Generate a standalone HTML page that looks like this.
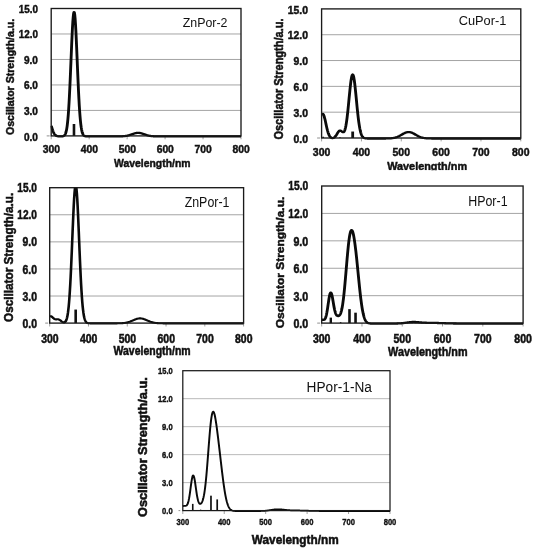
<!DOCTYPE html>
<html><head><meta charset="utf-8"><title>Oscillator strength spectra</title>
<style>
html,body{margin:0;padding:0;background:#fff;}
body{width:535px;height:550px;overflow:hidden;}
svg{display:block;}
text{font-family:"Liberation Sans","DejaVu Sans",sans-serif;fill:#111;}
</style></head><body>
<svg width="535" height="550" viewBox="0 0 535 550">
<rect width="535" height="550" fill="#fff"/>

<g id="chart1">
<clipPath id="cp0"><rect x="50.6" y="7.7" width="191.20000000000002" height="131.20000000000002"/></clipPath>
<line x1="51.20" x2="241.00" y1="110.42" y2="110.42" stroke="#a4a4a4" stroke-width="1"/>
<line x1="51.20" x2="241.00" y1="84.94" y2="84.94" stroke="#a4a4a4" stroke-width="1"/>
<line x1="51.20" x2="241.00" y1="59.46" y2="59.46" stroke="#a4a4a4" stroke-width="1"/>
<line x1="51.20" x2="241.00" y1="33.98" y2="33.98" stroke="#a4a4a4" stroke-width="1"/>
<line x1="46.70" x2="49.60" y1="135.90" y2="135.90" stroke="#909090" stroke-width="1"/>
<line x1="51.20" x2="51.20" y1="135.90" y2="139.30" stroke="#a0a0a0" stroke-width="1"/>
<line x1="89.16" x2="89.16" y1="135.90" y2="139.30" stroke="#a0a0a0" stroke-width="1"/>
<line x1="127.12" x2="127.12" y1="135.90" y2="139.30" stroke="#a0a0a0" stroke-width="1"/>
<line x1="165.08" x2="165.08" y1="135.90" y2="139.30" stroke="#a0a0a0" stroke-width="1"/>
<line x1="203.04" x2="203.04" y1="135.90" y2="139.30" stroke="#a0a0a0" stroke-width="1"/>
<line x1="241.00" x2="241.00" y1="135.90" y2="139.30" stroke="#a0a0a0" stroke-width="1"/>
<rect x="72.68" y="124.01" width="2.6" height="11.89" fill="#111"/>
<g clip-path="url(#cp0)"><polyline transform="scale(1.24,1)" points="41.29,125.68 41.60,126.87 41.90,128.06 42.21,129.21 42.51,130.29 42.82,131.30 43.13,132.20 43.43,133.00 43.74,133.69 44.05,134.27 44.35,134.76 44.66,135.15 44.96,135.46 45.27,135.71 45.58,135.90 45.88,136.04 46.19,136.15 46.49,136.23 46.80,136.28 47.11,136.32 47.41,136.35 47.72,136.36 48.03,136.38 48.33,136.38 48.64,136.38 48.94,136.38 49.25,136.38 49.56,136.37 49.86,136.35 50.17,136.31 50.47,136.26 50.78,136.19 51.09,136.08 51.39,135.91 51.70,135.67 52.00,135.33 52.31,134.86 52.62,134.20 52.92,133.32 53.23,132.14 53.54,130.59 53.84,128.60 54.15,126.09 54.45,122.96 54.76,119.15 55.07,114.58 55.37,109.20 55.68,103.01 55.98,96.00 56.29,88.26 56.60,79.87 56.90,71.00 57.21,61.85 57.52,52.68 57.82,43.77 58.13,35.43 58.43,27.96 58.74,21.65 59.05,16.77 59.35,13.53 59.66,12.06 59.96,12.43 60.27,14.62 60.58,18.54 60.88,24.02 61.19,30.82 61.49,38.68 61.80,47.29 62.11,56.34 62.41,65.53 62.72,74.59 63.03,83.29 63.33,91.44 63.64,98.90 63.94,105.58 64.25,111.45 64.56,116.50 64.86,120.76 65.17,124.29 65.47,127.16 65.78,129.46 66.09,131.26 66.39,132.65 66.70,133.70 67.01,134.49 67.31,135.07 67.62,135.48 67.92,135.78 68.23,135.99 68.54,136.13 68.84,136.22 69.15,136.29 69.45,136.33 69.76,136.36 70.07,136.37 70.37,136.38 70.68,136.39 70.98,136.39 71.29,136.40 71.60,136.40 71.90,136.40 72.21,136.40 72.52,136.40 72.82,136.40 73.13,136.40 73.43,136.40 73.74,136.40 74.05,136.40 74.35,136.40 74.66,136.40 74.96,136.40 75.27,136.40 75.58,136.40 75.88,136.40 76.19,136.40 76.50,136.40 76.80,136.40 77.11,136.40 77.41,136.40 77.72,136.40 78.03,136.40 78.33,136.40 78.64,136.40 78.94,136.40 79.25,136.40 79.56,136.40 79.86,136.40 80.17,136.40 80.47,136.40 80.78,136.40 81.09,136.40 81.39,136.40 81.70,136.40 82.01,136.40 82.31,136.40 82.62,136.40 82.92,136.40 83.23,136.40 83.54,136.40 83.84,136.40 84.15,136.40 84.45,136.40 84.76,136.40 85.07,136.40 85.37,136.40 85.68,136.40 85.99,136.40 86.29,136.40 86.60,136.40 86.90,136.40 87.21,136.40 87.52,136.40 87.82,136.40 88.13,136.40 88.43,136.40 88.74,136.40 89.05,136.40 89.35,136.40 89.66,136.40 89.96,136.40 90.27,136.40 90.58,136.40 90.88,136.40 91.19,136.40 91.50,136.40 91.80,136.40 92.11,136.40 92.41,136.40 92.72,136.40 93.03,136.40 93.33,136.40 93.64,136.40 93.94,136.39 94.25,136.39 94.56,136.39 94.86,136.39 95.17,136.39 95.48,136.38 95.78,136.38 96.09,136.37 96.39,136.37 96.70,136.36 97.01,136.35 97.31,136.34 97.62,136.33 97.92,136.32 98.23,136.30 98.54,136.29 98.84,136.27 99.15,136.24 99.45,136.22 99.76,136.19 100.07,136.15 100.37,136.12 100.68,136.07 100.99,136.03 101.29,135.97 101.60,135.92 101.90,135.85 102.21,135.78 102.52,135.71 102.82,135.63 103.13,135.54 103.43,135.45 103.74,135.35 104.05,135.24 104.35,135.13 104.66,135.01 104.97,134.89 105.27,134.77 105.58,134.64 105.88,134.51 106.19,134.37 106.50,134.24 106.80,134.10 107.11,133.97 107.41,133.84 107.72,133.71 108.03,133.58 108.33,133.47 108.64,133.35 108.94,133.25 109.25,133.16 109.56,133.08 109.86,133.00 110.17,132.94 110.48,132.89 110.78,132.86 111.09,132.84 111.39,132.83 111.70,132.84 112.01,132.86 112.31,132.89 112.62,132.94 112.92,133.00 113.23,133.08 113.54,133.16 113.84,133.25 114.15,133.35 114.46,133.47 114.76,133.58 115.07,133.71 115.37,133.84 115.68,133.97 115.99,134.10 116.29,134.24 116.60,134.37 116.90,134.51 117.21,134.64 117.52,134.77 117.82,134.89 118.13,135.01 118.43,135.13 118.74,135.24 119.05,135.35 119.35,135.45 119.66,135.54 119.97,135.63 120.27,135.71 120.58,135.78 120.88,135.85 121.19,135.92 121.50,135.97 121.80,136.03 122.11,136.07 122.41,136.12 122.72,136.15 123.03,136.19 123.33,136.22 123.64,136.24 123.95,136.27 124.25,136.29 124.56,136.30 124.86,136.32 125.17,136.33 125.48,136.34 125.78,136.35 126.09,136.36 126.39,136.37 126.70,136.37 127.01,136.38 127.31,136.38 127.62,136.39 127.92,136.39 128.23,136.39 128.54,136.39 128.84,136.39 129.15,136.40 129.46,136.40 129.76,136.40 130.07,136.40 130.37,136.40 130.68,136.40 130.99,136.40 131.29,136.40 131.60,136.40 131.90,136.40 132.21,136.40 132.52,136.40 132.82,136.40 133.13,136.40 133.44,136.40 133.74,136.40 134.05,136.40 134.35,136.40 134.66,136.40 134.97,136.40 135.27,136.40 135.58,136.40 135.88,136.40 136.19,136.40 136.50,136.40 136.80,136.40 137.11,136.40 137.41,136.40 137.72,136.40 138.03,136.40 138.33,136.40 138.64,136.40 138.95,136.40 139.25,136.40 139.56,136.40 139.86,136.40 140.17,136.40 140.48,136.40 140.78,136.40 141.09,136.40 141.39,136.40 141.70,136.40 142.01,136.40 142.31,136.40 142.62,136.40 142.93,136.40 143.23,136.40 143.54,136.40 143.84,136.40 144.15,136.40 144.46,136.40 144.76,136.40 145.07,136.40 145.37,136.40 145.68,136.40 145.99,136.40 146.29,136.40 146.60,136.40 146.90,136.40 147.21,136.40 147.52,136.40 147.82,136.40 148.13,136.40 148.44,136.40 148.74,136.40 149.05,136.40 149.35,136.40 149.66,136.40 149.97,136.40 150.27,136.40 150.58,136.40 150.88,136.40 151.19,136.40 151.50,136.40 151.80,136.40 152.11,136.40 152.42,136.40 152.72,136.40 153.03,136.40 153.33,136.40 153.64,136.40 153.95,136.40 154.25,136.40 154.56,136.40 154.86,136.40 155.17,136.40 155.48,136.40 155.78,136.40 156.09,136.40 156.39,136.40 156.70,136.40 157.01,136.40 157.31,136.40 157.62,136.40 157.93,136.40 158.23,136.40 158.54,136.40 158.84,136.40 159.15,136.40 159.46,136.40 159.76,136.40 160.07,136.40 160.37,136.40 160.68,136.40 160.99,136.40 161.29,136.40 161.60,136.40 161.91,136.40 162.21,136.40 162.52,136.40 162.82,136.40 163.13,136.40 163.44,136.40 163.74,136.40 164.05,136.40 164.35,136.40 164.66,136.40 164.97,136.40 165.27,136.40 165.58,136.40 165.88,136.40 166.19,136.40 166.50,136.40 166.80,136.40 167.11,136.40 167.42,136.40 167.72,136.40 168.03,136.40 168.33,136.40 168.64,136.40 168.95,136.40 169.25,136.40 169.56,136.40 169.86,136.40 170.17,136.40 170.48,136.40 170.78,136.40 171.09,136.40 171.40,136.40 171.70,136.40 172.01,136.40 172.31,136.40 172.62,136.40 172.93,136.40 173.23,136.40 173.54,136.40 173.84,136.40 174.15,136.40 174.46,136.40 174.76,136.40 175.07,136.40 175.37,136.40 175.68,136.40 175.99,136.40 176.29,136.40 176.60,136.40 176.91,136.40 177.21,136.40 177.52,136.40 177.82,136.40 178.13,136.40 178.44,136.40 178.74,136.40 179.05,136.40 179.35,136.40 179.66,136.40 179.97,136.40 180.27,136.40 180.58,136.40 180.89,136.40 181.19,136.40 181.50,136.40 181.80,136.40 182.11,136.40 182.42,136.40 182.72,136.40 183.03,136.40 183.33,136.40 183.64,136.40 183.95,136.40 184.25,136.40 184.56,136.40 184.86,136.40 185.17,136.40 185.48,136.40 185.78,136.40 186.09,136.40 186.40,136.40 186.70,136.40 187.01,136.40 187.31,136.40 187.62,136.40 187.93,136.40 188.23,136.40 188.54,136.40 188.84,136.40 189.15,136.40 189.46,136.40 189.76,136.40 190.07,136.40 190.38,136.40 190.68,136.40 190.99,136.40 191.29,136.40 191.60,136.40 191.91,136.40 192.21,136.40 192.52,136.40 192.82,136.40 193.13,136.40 193.44,136.40 193.74,136.40 194.05,136.40 194.35,136.40" fill="none" stroke="#0a0a0a" stroke-width="2.3" stroke-linejoin="round" stroke-linecap="butt"/></g>
<rect x="51.20" y="8.50" width="189.80" height="127.40" fill="none" stroke="#1a1a1a" stroke-width="1.35"/>
<text transform="translate(23.90,140.60) scale(0.9144,1)" font-size="11.01" font-weight="bold" stroke="#111" stroke-width="0.46">0.0</text>
<text transform="translate(23.90,115.04) scale(0.9144,1)" font-size="11.01" font-weight="bold" stroke="#111" stroke-width="0.46">3.0</text>
<text transform="translate(23.90,89.48) scale(0.9144,1)" font-size="11.01" font-weight="bold" stroke="#111" stroke-width="0.46">6.0</text>
<text transform="translate(23.90,63.92) scale(0.9144,1)" font-size="11.01" font-weight="bold" stroke="#111" stroke-width="0.46">9.0</text>
<text transform="translate(18.70,38.36) scale(0.8962,1)" font-size="11.01" font-weight="bold" stroke="#111" stroke-width="0.46">12.0</text>
<text transform="translate(18.70,12.80) scale(0.8962,1)" font-size="11.01" font-weight="bold" stroke="#111" stroke-width="0.46">15.0</text>
<text transform="translate(42.75,153.30) scale(0.9659,1)" font-size="10.72" font-weight="bold" stroke="#111" stroke-width="0.45">300</text>
<text transform="translate(80.71,153.30) scale(0.9659,1)" font-size="10.72" font-weight="bold" stroke="#111" stroke-width="0.45">400</text>
<text transform="translate(118.67,153.30) scale(0.9659,1)" font-size="10.72" font-weight="bold" stroke="#111" stroke-width="0.45">500</text>
<text transform="translate(156.63,153.30) scale(0.9659,1)" font-size="10.72" font-weight="bold" stroke="#111" stroke-width="0.45">600</text>
<text transform="translate(194.59,153.30) scale(0.9659,1)" font-size="10.72" font-weight="bold" stroke="#111" stroke-width="0.45">700</text>
<text transform="translate(232.55,153.30) scale(0.9659,1)" font-size="10.72" font-weight="bold" stroke="#111" stroke-width="0.45">800</text>
<text transform="translate(114.00,166.60) scale(0.9213,1)" font-size="11.30" font-weight="bold" stroke="#111" stroke-width="0.47">Wavelength/nm</text>
<text transform="translate(14.00,135.00) rotate(-90) scale(0.9014,1)" font-size="11.74" font-weight="bold" stroke="#111" stroke-width="0.49">Oscillator Strength/a.u.</text>
<text transform="translate(182.70,27.40) scale(0.9886,1)" font-size="12.54" font-weight="normal">ZnPor-2</text>
</g>
<g id="chart2">
<clipPath id="cp1"><rect x="321.0" y="8.1" width="200.59999999999994" height="132.9"/></clipPath>
<line x1="321.60" x2="520.80" y1="112.18" y2="112.18" stroke="#a4a4a4" stroke-width="1"/>
<line x1="321.60" x2="520.80" y1="86.36" y2="86.36" stroke="#a4a4a4" stroke-width="1"/>
<line x1="321.60" x2="520.80" y1="60.54" y2="60.54" stroke="#a4a4a4" stroke-width="1"/>
<line x1="321.60" x2="520.80" y1="34.72" y2="34.72" stroke="#a4a4a4" stroke-width="1"/>
<line x1="317.10" x2="320.00" y1="138.00" y2="138.00" stroke="#909090" stroke-width="1"/>
<line x1="321.60" x2="321.60" y1="138.00" y2="141.40" stroke="#a0a0a0" stroke-width="1"/>
<line x1="361.44" x2="361.44" y1="138.00" y2="141.40" stroke="#a0a0a0" stroke-width="1"/>
<line x1="401.28" x2="401.28" y1="138.00" y2="141.40" stroke="#a0a0a0" stroke-width="1"/>
<line x1="441.12" x2="441.12" y1="138.00" y2="141.40" stroke="#a0a0a0" stroke-width="1"/>
<line x1="480.96" x2="480.96" y1="138.00" y2="141.40" stroke="#a0a0a0" stroke-width="1"/>
<line x1="520.80" x2="520.80" y1="138.00" y2="141.40" stroke="#a0a0a0" stroke-width="1"/>
<rect x="351.28" y="131.54" width="2.8" height="6.46" fill="#111"/>
<rect x="322.44" y="136.71" width="1.5" height="1.29" fill="#111"/>
<rect x="339.18" y="137.31" width="1.5" height="0.69" fill="#111"/>
<g clip-path="url(#cp1)"><polyline transform="scale(1.24,1)" points="259.35,115.43 259.68,114.58 260.00,114.09 260.32,113.98 260.64,114.25 260.96,114.88 261.28,115.86 261.60,117.13 261.93,118.64 262.25,120.33 262.57,122.14 262.89,123.99 263.21,125.84 263.53,127.62 263.85,129.29 264.17,130.83 264.50,132.21 264.82,133.42 265.14,134.46 265.46,135.34 265.78,136.06 266.10,136.64 266.42,137.10 266.74,137.45 267.07,137.71 267.39,137.89 267.71,138.00 268.03,138.05 268.35,138.04 268.67,137.98 268.99,137.86 269.31,137.67 269.64,137.42 269.96,137.10 270.28,136.70 270.60,136.24 270.92,135.70 271.24,135.10 271.56,134.46 271.89,133.79 272.21,133.12 272.53,132.47 272.85,131.89 273.17,131.38 273.49,130.98 273.81,130.71 274.13,130.58 274.46,130.59 274.78,130.71 275.10,130.94 275.42,131.23 275.74,131.55 276.06,131.85 276.38,132.08 276.70,132.18 277.03,132.11 277.35,131.81 277.67,131.25 277.99,130.39 278.31,129.19 278.63,127.63 278.95,125.69 279.27,123.37 279.60,120.68 279.92,117.62 280.24,114.23 280.56,110.55 280.88,106.64 281.20,102.57 281.52,98.43 281.85,94.31 282.17,90.31 282.49,86.56 282.81,83.15 283.13,80.20 283.45,77.79 283.77,76.01 284.09,74.92 284.42,74.55 284.74,74.92 285.06,76.01 285.38,77.79 285.70,80.20 286.02,83.16 286.34,86.57 286.66,90.33 286.99,94.33 287.31,98.46 287.63,102.63 287.95,106.73 288.27,110.68 288.59,114.43 288.91,117.91 289.23,121.08 289.56,123.94 289.88,126.47 290.20,128.67 290.52,130.57 290.84,132.17 291.16,133.50 291.48,134.60 291.81,135.50 292.13,136.21 292.45,136.78 292.77,137.22 293.09,137.55 293.41,137.81 293.73,138.01 294.05,138.15 294.38,138.25 294.70,138.33 295.02,138.38 295.34,138.42 295.66,138.45 295.98,138.46 296.30,138.48 296.62,138.48 296.95,138.49 297.27,138.49 297.59,138.50 297.91,138.50 298.23,138.50 298.55,138.50 298.87,138.50 299.19,138.50 299.52,138.50 299.84,138.50 300.16,138.50 300.48,138.50 300.80,138.50 301.12,138.50 301.44,138.50 301.77,138.50 302.09,138.50 302.41,138.50 302.73,138.50 303.05,138.50 303.37,138.50 303.69,138.50 304.01,138.50 304.34,138.50 304.66,138.50 304.98,138.50 305.30,138.50 305.62,138.50 305.94,138.50 306.26,138.50 306.58,138.50 306.91,138.50 307.23,138.50 307.55,138.50 307.87,138.50 308.19,138.50 308.51,138.50 308.83,138.50 309.15,138.49 309.48,138.49 309.80,138.49 310.12,138.49 310.44,138.49 310.76,138.48 311.08,138.48 311.40,138.47 311.73,138.47 312.05,138.46 312.37,138.45 312.69,138.45 313.01,138.43 313.33,138.42 313.65,138.41 313.97,138.39 314.30,138.37 314.62,138.35 314.94,138.32 315.26,138.29 315.58,138.26 315.90,138.22 316.22,138.17 316.54,138.12 316.87,138.07 317.19,138.00 317.51,137.93 317.83,137.86 318.15,137.77 318.47,137.68 318.79,137.57 319.11,137.46 319.44,137.34 319.76,137.21 320.08,137.07 320.40,136.92 320.72,136.76 321.04,136.58 321.36,136.40 321.69,136.22 322.01,136.02 322.33,135.81 322.65,135.60 322.97,135.38 323.29,135.16 323.61,134.93 323.93,134.70 324.26,134.47 324.58,134.24 324.90,134.01 325.22,133.79 325.54,133.57 325.86,133.37 326.18,133.17 326.50,132.98 326.83,132.80 327.15,132.64 327.47,132.50 327.79,132.37 328.11,132.27 328.43,132.18 328.75,132.11 329.07,132.07 329.40,132.05 329.72,132.05 330.04,132.07 330.36,132.11 330.68,132.18 331.00,132.27 331.32,132.37 331.65,132.50 331.97,132.64 332.29,132.80 332.61,132.98 332.93,133.17 333.25,133.37 333.57,133.57 333.89,133.79 334.22,134.01 334.54,134.24 334.86,134.47 335.18,134.70 335.50,134.93 335.82,135.16 336.14,135.38 336.46,135.60 336.79,135.81 337.11,136.02 337.43,136.22 337.75,136.40 338.07,136.58 338.39,136.76 338.71,136.92 339.03,137.07 339.36,137.21 339.68,137.34 340.00,137.46 340.32,137.57 340.64,137.68 340.96,137.77 341.28,137.86 341.61,137.93 341.93,138.00 342.25,138.07 342.57,138.12 342.89,138.17 343.21,138.22 343.53,138.26 343.85,138.29 344.18,138.32 344.50,138.35 344.82,138.37 345.14,138.39 345.46,138.41 345.78,138.42 346.10,138.43 346.42,138.45 346.75,138.45 347.07,138.46 347.39,138.47 347.71,138.47 348.03,138.48 348.35,138.48 348.67,138.49 348.99,138.49 349.32,138.49 349.64,138.49 349.96,138.49 350.28,138.50 350.60,138.50 350.92,138.50 351.24,138.50 351.57,138.50 351.89,138.50 352.21,138.50 352.53,138.50 352.85,138.50 353.17,138.50 353.49,138.50 353.81,138.50 354.14,138.50 354.46,138.50 354.78,138.50 355.10,138.50 355.42,138.50 355.74,138.50 356.06,138.50 356.38,138.50 356.71,138.50 357.03,138.50 357.35,138.50 357.67,138.50 357.99,138.50 358.31,138.50 358.63,138.50 358.95,138.50 359.28,138.50 359.60,138.50 359.92,138.50 360.24,138.50 360.56,138.50 360.88,138.50 361.20,138.50 361.53,138.50 361.85,138.50 362.17,138.50 362.49,138.50 362.81,138.50 363.13,138.50 363.45,138.50 363.77,138.50 364.10,138.50 364.42,138.50 364.74,138.50 365.06,138.50 365.38,138.50 365.70,138.50 366.02,138.50 366.34,138.50 366.67,138.50 366.99,138.50 367.31,138.50 367.63,138.50 367.95,138.50 368.27,138.50 368.59,138.50 368.91,138.50 369.24,138.50 369.56,138.50 369.88,138.50 370.20,138.50 370.52,138.50 370.84,138.50 371.16,138.50 371.49,138.50 371.81,138.50 372.13,138.50 372.45,138.50 372.77,138.50 373.09,138.50 373.41,138.50 373.73,138.50 374.06,138.50 374.38,138.50 374.70,138.50 375.02,138.50 375.34,138.50 375.66,138.50 375.98,138.50 376.30,138.50 376.63,138.50 376.95,138.50 377.27,138.50 377.59,138.50 377.91,138.50 378.23,138.50 378.55,138.50 378.87,138.50 379.20,138.50 379.52,138.50 379.84,138.50 380.16,138.50 380.48,138.50 380.80,138.50 381.12,138.50 381.45,138.50 381.77,138.50 382.09,138.50 382.41,138.50 382.73,138.50 383.05,138.50 383.37,138.50 383.69,138.50 384.02,138.50 384.34,138.50 384.66,138.50 384.98,138.50 385.30,138.50 385.62,138.50 385.94,138.50 386.26,138.50 386.59,138.50 386.91,138.50 387.23,138.50 387.55,138.50 387.87,138.50 388.19,138.50 388.51,138.50 388.83,138.50 389.16,138.50 389.48,138.50 389.80,138.50 390.12,138.50 390.44,138.50 390.76,138.50 391.08,138.50 391.41,138.50 391.73,138.50 392.05,138.50 392.37,138.50 392.69,138.50 393.01,138.50 393.33,138.50 393.65,138.50 393.98,138.50 394.30,138.50 394.62,138.50 394.94,138.50 395.26,138.50 395.58,138.50 395.90,138.50 396.22,138.50 396.55,138.50 396.87,138.50 397.19,138.50 397.51,138.50 397.83,138.50 398.15,138.50 398.47,138.50 398.79,138.50 399.12,138.50 399.44,138.50 399.76,138.50 400.08,138.50 400.40,138.50 400.72,138.50 401.04,138.50 401.37,138.50 401.69,138.50 402.01,138.50 402.33,138.50 402.65,138.50 402.97,138.50 403.29,138.50 403.61,138.50 403.94,138.50 404.26,138.50 404.58,138.50 404.90,138.50 405.22,138.50 405.54,138.50 405.86,138.50 406.18,138.50 406.51,138.50 406.83,138.50 407.15,138.50 407.47,138.50 407.79,138.50 408.11,138.50 408.43,138.50 408.75,138.50 409.08,138.50 409.40,138.50 409.72,138.50 410.04,138.50 410.36,138.50 410.68,138.50 411.00,138.50 411.33,138.50 411.65,138.50 411.97,138.50 412.29,138.50 412.61,138.50 412.93,138.50 413.25,138.50 413.57,138.50 413.90,138.50 414.22,138.50 414.54,138.50 414.86,138.50 415.18,138.50 415.50,138.50 415.82,138.50 416.14,138.50 416.47,138.50 416.79,138.50 417.11,138.50 417.43,138.50 417.75,138.50 418.07,138.50 418.39,138.50 418.71,138.50 419.04,138.50 419.36,138.50 419.68,138.50 420.00,138.50" fill="none" stroke="#0a0a0a" stroke-width="2.3" stroke-linejoin="round" stroke-linecap="butt"/></g>
<rect x="321.60" y="8.90" width="199.20" height="129.10" fill="none" stroke="#1a1a1a" stroke-width="1.35"/>
<text transform="translate(293.50,142.70) scale(0.8935,1)" font-size="11.59" font-weight="bold" stroke="#111" stroke-width="0.49">0.0</text>
<text transform="translate(293.50,116.89) scale(0.8935,1)" font-size="11.59" font-weight="bold" stroke="#111" stroke-width="0.49">3.0</text>
<text transform="translate(293.50,91.08) scale(0.8935,1)" font-size="11.59" font-weight="bold" stroke="#111" stroke-width="0.49">6.0</text>
<text transform="translate(293.50,65.27) scale(0.8935,1)" font-size="11.59" font-weight="bold" stroke="#111" stroke-width="0.49">9.0</text>
<text transform="translate(287.70,39.46) scale(0.8958,1)" font-size="11.59" font-weight="bold" stroke="#111" stroke-width="0.49">12.0</text>
<text transform="translate(287.70,13.65) scale(0.8958,1)" font-size="11.59" font-weight="bold" stroke="#111" stroke-width="0.49">15.0</text>
<text transform="translate(312.85,156.00) scale(0.9514,1)" font-size="11.01" font-weight="bold" stroke="#111" stroke-width="0.46">300</text>
<text transform="translate(352.69,156.00) scale(0.9514,1)" font-size="11.01" font-weight="bold" stroke="#111" stroke-width="0.46">400</text>
<text transform="translate(392.53,156.00) scale(0.9514,1)" font-size="11.01" font-weight="bold" stroke="#111" stroke-width="0.46">500</text>
<text transform="translate(432.37,156.00) scale(0.9514,1)" font-size="11.01" font-weight="bold" stroke="#111" stroke-width="0.46">600</text>
<text transform="translate(472.21,156.00) scale(0.9514,1)" font-size="11.01" font-weight="bold" stroke="#111" stroke-width="0.46">700</text>
<text transform="translate(512.05,156.00) scale(0.9514,1)" font-size="11.01" font-weight="bold" stroke="#111" stroke-width="0.46">800</text>
<clipPath id="xc1"><rect x="321.6" y="143" width="199.19999999999993" height="27.30000000000001"/></clipPath>
<g clip-path="url(#xc1)"><text transform="translate(387.20,169.60) scale(0.9266,1)" font-size="11.74" font-weight="bold" stroke="#111" stroke-width="0.49">Wavelength/nm</text></g>
<text transform="translate(282.50,139.60) rotate(-90) scale(0.8639,1)" font-size="12.75" font-weight="bold" stroke="#111" stroke-width="0.54">Oscillator Strength/a.u.</text>
<text transform="translate(458.70,24.90) scale(0.9400,1)" font-size="13.62" font-weight="normal">CuPor-1</text>
</g>
<g id="chart3">
<clipPath id="cp2"><rect x="49.1" y="186.89999999999998" width="195.29999999999998" height="139.20000000000005"/></clipPath>
<line x1="49.70" x2="243.60" y1="296.02" y2="296.02" stroke="#a4a4a4" stroke-width="1"/>
<line x1="49.70" x2="243.60" y1="268.94" y2="268.94" stroke="#a4a4a4" stroke-width="1"/>
<line x1="49.70" x2="243.60" y1="241.86" y2="241.86" stroke="#a4a4a4" stroke-width="1"/>
<line x1="49.70" x2="243.60" y1="214.78" y2="214.78" stroke="#a4a4a4" stroke-width="1"/>
<line x1="45.20" x2="48.10" y1="323.10" y2="323.10" stroke="#909090" stroke-width="1"/>
<line x1="49.70" x2="49.70" y1="323.10" y2="326.50" stroke="#a0a0a0" stroke-width="1"/>
<line x1="88.48" x2="88.48" y1="323.10" y2="326.50" stroke="#a0a0a0" stroke-width="1"/>
<line x1="127.26" x2="127.26" y1="323.10" y2="326.50" stroke="#a0a0a0" stroke-width="1"/>
<line x1="166.04" x2="166.04" y1="323.10" y2="326.50" stroke="#a0a0a0" stroke-width="1"/>
<line x1="204.82" x2="204.82" y1="323.10" y2="326.50" stroke="#a0a0a0" stroke-width="1"/>
<line x1="243.60" x2="243.60" y1="323.10" y2="326.50" stroke="#a0a0a0" stroke-width="1"/>
<rect x="74.38" y="309.56" width="2.6" height="13.54" fill="#111"/>
<g clip-path="url(#cp2)"><polyline transform="scale(1.24,1)" points="40.08,316.50 40.39,316.30 40.71,316.20 41.02,316.22 41.33,316.34 41.64,316.56 41.96,316.85 42.27,317.20 42.58,317.57 42.90,317.95 43.21,318.31 43.52,318.63 43.83,318.90 44.15,319.10 44.46,319.25 44.77,319.33 45.08,319.36 45.40,319.36 45.71,319.34 46.02,319.31 46.34,319.30 46.65,319.31 46.96,319.36 47.27,319.45 47.59,319.60 47.90,319.78 48.21,320.02 48.52,320.28 48.84,320.57 49.15,320.87 49.46,321.18 49.78,321.47 50.09,321.74 50.40,321.98 50.71,322.17 51.03,322.32 51.34,322.41 51.65,322.42 51.96,322.36 52.28,322.18 52.59,321.89 52.90,321.44 53.22,320.80 53.53,319.92 53.84,318.76 54.15,317.25 54.47,315.32 54.78,312.90 55.09,309.91 55.41,306.30 55.72,301.97 56.03,296.90 56.34,291.04 56.66,284.39 56.97,276.97 57.28,268.85 57.59,260.12 57.91,250.94 58.22,241.49 58.53,231.99 58.85,222.70 59.16,213.89 59.47,205.83 59.78,198.80 60.10,193.04 60.41,188.76 60.72,186.13 61.03,185.24 61.35,186.13 61.66,188.76 61.97,193.04 62.29,198.80 62.60,205.83 62.91,213.89 63.22,222.70 63.54,231.99 63.85,241.49 64.16,250.94 64.47,260.12 64.79,268.85 65.10,276.97 65.41,284.39 65.73,291.04 66.04,296.90 66.35,301.98 66.66,306.30 66.98,309.92 67.29,312.91 67.60,315.34 67.91,317.28 68.23,318.81 68.54,320.00 68.85,320.91 69.17,321.59 69.48,322.10 69.79,322.48 70.10,322.74 70.42,322.94 70.73,323.07 71.04,323.16 71.35,323.23 71.67,323.27 71.98,323.30 72.29,323.32 72.61,323.33 72.92,323.34 73.23,323.34 73.54,323.35 73.86,323.35 74.17,323.35 74.48,323.35 74.80,323.35 75.11,323.35 75.42,323.35 75.73,323.35 76.05,323.35 76.36,323.35 76.67,323.35 76.98,323.35 77.30,323.35 77.61,323.35 77.92,323.35 78.24,323.35 78.55,323.35 78.86,323.35 79.17,323.35 79.49,323.35 79.80,323.35 80.11,323.35 80.42,323.35 80.74,323.35 81.05,323.35 81.36,323.35 81.68,323.35 81.99,323.35 82.30,323.35 82.61,323.35 82.93,323.35 83.24,323.35 83.55,323.35 83.86,323.35 84.18,323.35 84.49,323.35 84.80,323.35 85.12,323.35 85.43,323.35 85.74,323.35 86.05,323.35 86.37,323.35 86.68,323.35 86.99,323.35 87.30,323.35 87.62,323.35 87.93,323.35 88.24,323.35 88.56,323.35 88.87,323.35 89.18,323.35 89.49,323.35 89.81,323.35 90.12,323.35 90.43,323.35 90.74,323.35 91.06,323.35 91.37,323.35 91.68,323.35 92.00,323.35 92.31,323.34 92.62,323.34 92.93,323.34 93.25,323.34 93.56,323.34 93.87,323.33 94.18,323.33 94.50,323.33 94.81,323.32 95.12,323.32 95.44,323.31 95.75,323.30 96.06,323.29 96.37,323.28 96.69,323.27 97.00,323.26 97.31,323.25 97.63,323.23 97.94,323.21 98.25,323.19 98.56,323.16 98.88,323.13 99.19,323.10 99.50,323.06 99.81,323.02 100.13,322.98 100.44,322.93 100.75,322.88 101.07,322.82 101.38,322.75 101.69,322.68 102.00,322.60 102.32,322.52 102.63,322.43 102.94,322.33 103.25,322.22 103.57,322.11 103.88,321.99 104.19,321.87 104.51,321.74 104.82,321.60 105.13,321.46 105.44,321.31 105.76,321.16 106.07,321.00 106.38,320.84 106.69,320.67 107.01,320.51 107.32,320.34 107.63,320.17 107.95,320.01 108.26,319.84 108.57,319.68 108.88,319.53 109.20,319.37 109.51,319.23 109.82,319.10 110.13,318.97 110.45,318.85 110.76,318.75 111.07,318.65 111.39,318.57 111.70,318.51 112.01,318.45 112.32,318.42 112.64,318.39 112.95,318.39 113.26,318.39 113.57,318.42 113.89,318.45 114.20,318.51 114.51,318.57 114.83,318.65 115.14,318.75 115.45,318.85 115.76,318.97 116.08,319.10 116.39,319.23 116.70,319.37 117.02,319.53 117.33,319.68 117.64,319.84 117.95,320.01 118.27,320.17 118.58,320.34 118.89,320.51 119.20,320.67 119.52,320.84 119.83,321.00 120.14,321.16 120.46,321.31 120.77,321.46 121.08,321.60 121.39,321.74 121.71,321.87 122.02,321.99 122.33,322.11 122.64,322.22 122.96,322.33 123.27,322.43 123.58,322.52 123.90,322.60 124.21,322.68 124.52,322.75 124.83,322.82 125.15,322.88 125.46,322.93 125.77,322.98 126.08,323.02 126.40,323.06 126.71,323.10 127.02,323.13 127.34,323.16 127.65,323.19 127.96,323.21 128.27,323.23 128.59,323.25 128.90,323.26 129.21,323.27 129.52,323.28 129.84,323.29 130.15,323.30 130.46,323.31 130.78,323.32 131.09,323.32 131.40,323.33 131.71,323.33 132.03,323.33 132.34,323.34 132.65,323.34 132.97,323.34 133.28,323.34 133.59,323.34 133.90,323.35 134.22,323.35 134.53,323.35 134.84,323.35 135.15,323.35 135.47,323.35 135.78,323.35 136.09,323.35 136.41,323.35 136.72,323.35 137.03,323.35 137.34,323.35 137.66,323.35 137.97,323.35 138.28,323.35 138.59,323.35 138.91,323.35 139.22,323.35 139.53,323.35 139.85,323.35 140.16,323.35 140.47,323.35 140.78,323.35 141.10,323.35 141.41,323.35 141.72,323.35 142.03,323.35 142.35,323.35 142.66,323.35 142.97,323.35 143.29,323.35 143.60,323.35 143.91,323.35 144.22,323.35 144.54,323.35 144.85,323.35 145.16,323.35 145.47,323.35 145.79,323.35 146.10,323.35 146.41,323.35 146.73,323.35 147.04,323.35 147.35,323.35 147.66,323.35 147.98,323.35 148.29,323.35 148.60,323.35 148.91,323.35 149.23,323.35 149.54,323.35 149.85,323.35 150.17,323.35 150.48,323.35 150.79,323.35 151.10,323.35 151.42,323.35 151.73,323.35 152.04,323.35 152.35,323.35 152.67,323.35 152.98,323.35 153.29,323.35 153.61,323.35 153.92,323.35 154.23,323.35 154.54,323.35 154.86,323.35 155.17,323.35 155.48,323.35 155.80,323.35 156.11,323.35 156.42,323.35 156.73,323.35 157.05,323.35 157.36,323.35 157.67,323.35 157.98,323.35 158.30,323.35 158.61,323.35 158.92,323.35 159.24,323.35 159.55,323.35 159.86,323.35 160.17,323.35 160.49,323.35 160.80,323.35 161.11,323.35 161.42,323.35 161.74,323.35 162.05,323.35 162.36,323.35 162.68,323.35 162.99,323.35 163.30,323.35 163.61,323.35 163.93,323.35 164.24,323.35 164.55,323.35 164.86,323.35 165.18,323.35 165.49,323.35 165.80,323.35 166.12,323.35 166.43,323.35 166.74,323.35 167.05,323.35 167.37,323.35 167.68,323.35 167.99,323.35 168.30,323.35 168.62,323.35 168.93,323.35 169.24,323.35 169.56,323.35 169.87,323.35 170.18,323.35 170.49,323.35 170.81,323.35 171.12,323.35 171.43,323.35 171.75,323.35 172.06,323.35 172.37,323.35 172.68,323.35 173.00,323.35 173.31,323.35 173.62,323.35 173.93,323.35 174.25,323.35 174.56,323.35 174.87,323.35 175.19,323.35 175.50,323.35 175.81,323.35 176.12,323.35 176.44,323.35 176.75,323.35 177.06,323.35 177.37,323.35 177.69,323.35 178.00,323.35 178.31,323.35 178.63,323.35 178.94,323.35 179.25,323.35 179.56,323.35 179.88,323.35 180.19,323.35 180.50,323.35 180.81,323.35 181.13,323.35 181.44,323.35 181.75,323.35 182.07,323.35 182.38,323.35 182.69,323.35 183.00,323.35 183.32,323.35 183.63,323.35 183.94,323.35 184.25,323.35 184.57,323.35 184.88,323.35 185.19,323.35 185.51,323.35 185.82,323.35 186.13,323.35 186.44,323.35 186.76,323.35 187.07,323.35 187.38,323.35 187.69,323.35 188.01,323.35 188.32,323.35 188.63,323.35 188.95,323.35 189.26,323.35 189.57,323.35 189.88,323.35 190.20,323.35 190.51,323.35 190.82,323.35 191.13,323.35 191.45,323.35 191.76,323.35 192.07,323.35 192.39,323.35 192.70,323.35 193.01,323.35 193.32,323.35 193.64,323.35 193.95,323.35 194.26,323.35 194.58,323.35 194.89,323.35 195.20,323.35 195.51,323.35 195.83,323.35 196.14,323.35 196.45,323.35" fill="none" stroke="#0a0a0a" stroke-width="2.1" stroke-linejoin="round" stroke-linecap="butt"/></g>
<rect x="49.70" y="187.70" width="193.90" height="135.40" fill="none" stroke="#1a1a1a" stroke-width="1.35"/>
<text transform="translate(22.50,328.30) scale(0.8370,1)" font-size="12.46" font-weight="bold" stroke="#111" stroke-width="0.52">0.0</text>
<text transform="translate(22.50,300.98) scale(0.8370,1)" font-size="12.46" font-weight="bold" stroke="#111" stroke-width="0.52">3.0</text>
<text transform="translate(22.50,273.66) scale(0.8370,1)" font-size="12.46" font-weight="bold" stroke="#111" stroke-width="0.52">6.0</text>
<text transform="translate(22.50,246.34) scale(0.8370,1)" font-size="12.46" font-weight="bold" stroke="#111" stroke-width="0.52">9.0</text>
<text transform="translate(17.30,219.02) scale(0.8126,1)" font-size="12.46" font-weight="bold" stroke="#111" stroke-width="0.52">12.0</text>
<text transform="translate(17.30,191.70) scale(0.8126,1)" font-size="12.46" font-weight="bold" stroke="#111" stroke-width="0.52">15.0</text>
<text transform="translate(41.15,342.60) scale(0.8507,1)" font-size="12.32" font-weight="bold" stroke="#111" stroke-width="0.52">300</text>
<text transform="translate(79.93,342.60) scale(0.8507,1)" font-size="12.32" font-weight="bold" stroke="#111" stroke-width="0.52">400</text>
<text transform="translate(118.71,342.60) scale(0.8507,1)" font-size="12.32" font-weight="bold" stroke="#111" stroke-width="0.52">500</text>
<text transform="translate(157.49,342.60) scale(0.8507,1)" font-size="12.32" font-weight="bold" stroke="#111" stroke-width="0.52">600</text>
<text transform="translate(196.27,342.60) scale(0.8507,1)" font-size="12.32" font-weight="bold" stroke="#111" stroke-width="0.52">700</text>
<text transform="translate(235.05,342.60) scale(0.8507,1)" font-size="12.32" font-weight="bold" stroke="#111" stroke-width="0.52">800</text>
<text transform="translate(113.50,355.30) scale(0.8773,1)" font-size="11.96" font-weight="bold" stroke="#111" stroke-width="0.50">Wavelength/nm</text>
<text transform="translate(12.90,321.90) rotate(-90) scale(0.9656,1)" font-size="12.17" font-weight="bold" stroke="#111" stroke-width="0.51">Oscillator Strength/a.u.</text>
<text transform="translate(184.65,206.90) scale(0.8825,1)" font-size="14.06" font-weight="normal">ZnPor-1</text>
</g>
<g id="chart4">
<clipPath id="cp3"><rect x="321.09999999999997" y="185.2" width="202.80000000000004" height="140.90000000000003"/></clipPath>
<line x1="321.70" x2="523.10" y1="295.68" y2="295.68" stroke="#a4a4a4" stroke-width="1"/>
<line x1="321.70" x2="523.10" y1="268.26" y2="268.26" stroke="#a4a4a4" stroke-width="1"/>
<line x1="321.70" x2="523.10" y1="240.84" y2="240.84" stroke="#a4a4a4" stroke-width="1"/>
<line x1="321.70" x2="523.10" y1="213.42" y2="213.42" stroke="#a4a4a4" stroke-width="1"/>
<line x1="317.20" x2="320.10" y1="323.10" y2="323.10" stroke="#909090" stroke-width="1"/>
<line x1="321.70" x2="321.70" y1="323.10" y2="326.50" stroke="#a0a0a0" stroke-width="1"/>
<line x1="361.98" x2="361.98" y1="323.10" y2="326.50" stroke="#a0a0a0" stroke-width="1"/>
<line x1="402.26" x2="402.26" y1="323.10" y2="326.50" stroke="#a0a0a0" stroke-width="1"/>
<line x1="442.54" x2="442.54" y1="323.10" y2="326.50" stroke="#a0a0a0" stroke-width="1"/>
<line x1="482.82" x2="482.82" y1="323.10" y2="326.50" stroke="#a0a0a0" stroke-width="1"/>
<line x1="523.10" x2="523.10" y1="323.10" y2="326.50" stroke="#a0a0a0" stroke-width="1"/>
<rect x="329.60" y="317.62" width="2.4" height="5.48" fill="#111"/>
<rect x="339.88" y="322.19" width="1.5" height="0.91" fill="#111"/>
<rect x="348.19" y="309.12" width="2.6" height="13.98" fill="#111"/>
<rect x="354.24" y="312.68" width="2.6" height="10.42" fill="#111"/>
<g clip-path="url(#cp3)"><polyline transform="scale(1.24,1)" points="259.44,319.91 259.76,319.80 260.09,319.76 260.41,319.77 260.73,319.80 261.06,319.79 261.38,319.71 261.71,319.48 262.03,319.05 262.36,318.35 262.68,317.34 263.01,315.98 263.33,314.25 263.66,312.17 263.98,309.78 264.31,307.15 264.63,304.38 264.96,301.60 265.28,298.97 265.61,296.63 265.93,294.73 266.26,293.39 266.58,292.69 266.91,292.66 267.23,293.29 267.56,294.53 267.88,296.27 268.21,298.38 268.53,300.72 268.86,303.14 269.18,305.50 269.51,307.71 269.83,309.67 270.16,311.36 270.48,312.74 270.80,313.83 271.13,314.66 271.45,315.25 271.78,315.66 272.10,315.90 272.43,316.02 272.75,316.03 273.08,315.93 273.40,315.73 273.73,315.39 274.05,314.91 274.38,314.24 274.70,313.35 275.03,312.22 275.35,310.79 275.68,309.05 276.00,306.97 276.33,304.54 276.65,301.73 276.98,298.57 277.30,295.05 277.63,291.20 277.95,287.05 278.28,282.66 278.60,278.08 278.93,273.36 279.25,268.58 279.58,263.81 279.90,259.13 280.23,254.61 280.55,250.33 280.87,246.34 281.20,242.72 281.52,239.50 281.85,236.73 282.17,234.43 282.50,232.63 282.82,231.32 283.15,230.50 283.47,230.17 283.80,230.30 284.12,230.88 284.45,231.88 284.77,233.28 285.10,235.04 285.42,237.15 285.75,239.58 286.07,242.30 286.40,245.29 286.72,248.53 287.05,251.98 287.37,255.63 287.70,259.44 288.02,263.38 288.35,267.41 288.67,271.49 289.00,275.58 289.32,279.65 289.65,283.66 289.97,287.56 290.30,291.32 290.62,294.90 290.94,298.29 291.27,301.45 291.59,304.38 291.92,307.05 292.24,309.48 292.57,311.65 292.89,313.57 293.22,315.25 293.54,316.72 293.87,317.97 294.19,319.04 294.52,319.94 294.84,320.69 295.17,321.30 295.49,321.80 295.82,322.21 296.14,322.53 296.47,322.79 296.79,322.99 297.12,323.14 297.44,323.26 297.77,323.35 298.09,323.42 298.42,323.47 298.74,323.51 299.07,323.53 299.39,323.55 299.72,323.57 300.04,323.58 300.37,323.59 300.69,323.59 301.01,323.59 301.34,323.60 301.66,323.60 301.99,323.60 302.31,323.60 302.64,323.60 302.96,323.60 303.29,323.60 303.61,323.60 303.94,323.60 304.26,323.60 304.59,323.60 304.91,323.60 305.24,323.60 305.56,323.60 305.89,323.60 306.21,323.60 306.54,323.60 306.86,323.60 307.19,323.60 307.51,323.60 307.84,323.60 308.16,323.60 308.49,323.60 308.81,323.60 309.14,323.60 309.46,323.60 309.79,323.60 310.11,323.60 310.44,323.60 310.76,323.60 311.08,323.60 311.41,323.60 311.73,323.60 312.06,323.60 312.38,323.60 312.71,323.60 313.03,323.60 313.36,323.60 313.68,323.60 314.01,323.60 314.33,323.60 314.66,323.59 314.98,323.59 315.31,323.59 315.63,323.59 315.96,323.59 316.28,323.59 316.61,323.58 316.93,323.58 317.26,323.58 317.58,323.57 317.91,323.57 318.23,323.56 318.56,323.56 318.88,323.55 319.21,323.54 319.53,323.54 319.86,323.53 320.18,323.51 320.51,323.50 320.83,323.49 321.15,323.47 321.48,323.45 321.80,323.43 322.13,323.41 322.45,323.38 322.78,323.36 323.10,323.33 323.43,323.30 323.75,323.26 324.08,323.23 324.40,323.19 324.73,323.14 325.05,323.10 325.38,323.05 325.70,323.00 326.03,322.95 326.35,322.90 326.68,322.84 327.00,322.79 327.33,322.73 327.65,322.67 327.98,322.61 328.30,322.55 328.63,322.49 328.95,322.44 329.28,322.38 329.60,322.33 329.93,322.28 330.25,322.23 330.58,322.18 330.90,322.14 331.22,322.10 331.55,322.07 331.87,322.04 332.20,322.01 332.52,321.99 332.85,321.98 333.17,321.97 333.50,321.97 333.82,321.97 334.15,321.97 334.47,321.98 334.80,321.99 335.12,322.01 335.45,322.03 335.77,322.06 336.10,322.09 336.42,322.12 336.75,322.15 337.07,322.19 337.40,322.22 337.72,322.26 338.05,322.30 338.37,322.33 338.70,322.37 339.02,322.41 339.35,322.44 339.67,322.48 340.00,322.51 340.32,322.54 340.65,322.57 340.97,322.60 341.29,322.62 341.62,322.65 341.94,322.67 342.27,322.69 342.59,322.71 342.92,322.72 343.24,322.74 343.57,322.75 343.89,322.76 344.22,322.78 344.54,322.79 344.87,322.79 345.19,322.80 345.52,322.81 345.84,322.82 346.17,322.82 346.49,322.83 346.82,322.83 347.14,322.84 347.47,322.84 347.79,322.85 348.12,322.85 348.44,322.86 348.77,322.87 349.09,322.87 349.42,322.88 349.74,322.89 350.07,322.90 350.39,322.90 350.72,322.91 351.04,322.92 351.36,322.93 351.69,322.94 352.01,322.95 352.34,322.96 352.66,322.98 352.99,322.99 353.31,323.00 353.64,323.01 353.96,323.03 354.29,323.04 354.61,323.05 354.94,323.07 355.26,323.08 355.59,323.10 355.91,323.11 356.24,323.13 356.56,323.14 356.89,323.16 357.21,323.17 357.54,323.19 357.86,323.20 358.19,323.22 358.51,323.23 358.84,323.24 359.16,323.26 359.49,323.27 359.81,323.29 360.14,323.30 360.46,323.31 360.79,323.33 361.11,323.34 361.43,323.35 361.76,323.36 362.08,323.37 362.41,323.39 362.73,323.40 363.06,323.41 363.38,323.42 363.71,323.43 364.03,323.44 364.36,323.45 364.68,323.46 365.01,323.46 365.33,323.47 365.66,323.48 365.98,323.49 366.31,323.49 366.63,323.50 366.96,323.51 367.28,323.51 367.61,323.52 367.93,323.52 368.26,323.53 368.58,323.53 368.91,323.54 369.23,323.54 369.56,323.55 369.88,323.55 370.21,323.56 370.53,323.56 370.86,323.56 371.18,323.57 371.50,323.57 371.83,323.57 372.15,323.57 372.48,323.58 372.80,323.58 373.13,323.58 373.45,323.58 373.78,323.58 374.10,323.58 374.43,323.59 374.75,323.59 375.08,323.59 375.40,323.59 375.73,323.59 376.05,323.59 376.38,323.59 376.70,323.59 377.03,323.59 377.35,323.59 377.68,323.59 378.00,323.60 378.33,323.60 378.65,323.60 378.98,323.60 379.30,323.60 379.63,323.60 379.95,323.60 380.28,323.60 380.60,323.60 380.93,323.60 381.25,323.60 381.57,323.60 381.90,323.60 382.22,323.60 382.55,323.60 382.87,323.60 383.20,323.60 383.52,323.60 383.85,323.60 384.17,323.60 384.50,323.60 384.82,323.60 385.15,323.60 385.47,323.60 385.80,323.60 386.12,323.60 386.45,323.60 386.77,323.60 387.10,323.60 387.42,323.60 387.75,323.60 388.07,323.60 388.40,323.60 388.72,323.60 389.05,323.60 389.37,323.60 389.70,323.60 390.02,323.60 390.35,323.60 390.67,323.60 391.00,323.60 391.32,323.60 391.64,323.60 391.97,323.60 392.29,323.60 392.62,323.60 392.94,323.60 393.27,323.60 393.59,323.60 393.92,323.60 394.24,323.60 394.57,323.60 394.89,323.60 395.22,323.60 395.54,323.60 395.87,323.60 396.19,323.60 396.52,323.60 396.84,323.60 397.17,323.60 397.49,323.60 397.82,323.60 398.14,323.60 398.47,323.60 398.79,323.60 399.12,323.60 399.44,323.60 399.77,323.60 400.09,323.60 400.42,323.60 400.74,323.60 401.07,323.60 401.39,323.60 401.71,323.60 402.04,323.60 402.36,323.60 402.69,323.60 403.01,323.60 403.34,323.60 403.66,323.60 403.99,323.60 404.31,323.60 404.64,323.60 404.96,323.60 405.29,323.60 405.61,323.60 405.94,323.60 406.26,323.60 406.59,323.60 406.91,323.60 407.24,323.60 407.56,323.60 407.89,323.60 408.21,323.60 408.54,323.60 408.86,323.60 409.19,323.60 409.51,323.60 409.84,323.60 410.16,323.60 410.49,323.60 410.81,323.60 411.14,323.60 411.46,323.60 411.78,323.60 412.11,323.60 412.43,323.60 412.76,323.60 413.08,323.60 413.41,323.60 413.73,323.60 414.06,323.60 414.38,323.60 414.71,323.60 415.03,323.60 415.36,323.60 415.68,323.60 416.01,323.60 416.33,323.60 416.66,323.60 416.98,323.60 417.31,323.60 417.63,323.60 417.96,323.60 418.28,323.60 418.61,323.60 418.93,323.60 419.26,323.60 419.58,323.60 419.91,323.60 420.23,323.60 420.56,323.60 420.88,323.60 421.21,323.60 421.53,323.60 421.85,323.60" fill="none" stroke="#0a0a0a" stroke-width="2.3" stroke-linejoin="round" stroke-linecap="butt"/></g>
<rect x="321.70" y="186.00" width="201.40" height="137.10" fill="none" stroke="#1a1a1a" stroke-width="1.35"/>
<text transform="translate(293.40,328.25) scale(0.8445,1)" font-size="12.61" font-weight="bold" stroke="#111" stroke-width="0.53">0.0</text>
<text transform="translate(293.40,300.67) scale(0.8445,1)" font-size="12.61" font-weight="bold" stroke="#111" stroke-width="0.53">3.0</text>
<text transform="translate(293.40,273.09) scale(0.8445,1)" font-size="12.61" font-weight="bold" stroke="#111" stroke-width="0.53">6.0</text>
<text transform="translate(293.40,245.51) scale(0.8445,1)" font-size="12.61" font-weight="bold" stroke="#111" stroke-width="0.53">9.0</text>
<text transform="translate(288.20,217.93) scale(0.8155,1)" font-size="12.61" font-weight="bold" stroke="#111" stroke-width="0.53">12.0</text>
<text transform="translate(288.20,190.35) scale(0.8155,1)" font-size="12.61" font-weight="bold" stroke="#111" stroke-width="0.53">15.0</text>
<text transform="translate(312.90,342.70) scale(0.8263,1)" font-size="12.75" font-weight="bold" stroke="#111" stroke-width="0.54">300</text>
<text transform="translate(353.18,342.70) scale(0.8263,1)" font-size="12.75" font-weight="bold" stroke="#111" stroke-width="0.54">400</text>
<text transform="translate(393.46,342.70) scale(0.8263,1)" font-size="12.75" font-weight="bold" stroke="#111" stroke-width="0.54">500</text>
<text transform="translate(433.74,342.70) scale(0.8263,1)" font-size="12.75" font-weight="bold" stroke="#111" stroke-width="0.54">600</text>
<text transform="translate(474.02,342.70) scale(0.8263,1)" font-size="12.75" font-weight="bold" stroke="#111" stroke-width="0.54">700</text>
<text transform="translate(514.30,342.70) scale(0.8263,1)" font-size="12.75" font-weight="bold" stroke="#111" stroke-width="0.54">800</text>
<text transform="translate(388.10,355.80) scale(0.8879,1)" font-size="12.17" font-weight="bold" stroke="#111" stroke-width="0.51">Wavelength/nm</text>
<text transform="translate(283.80,328.30) rotate(-90) scale(1.0334,1)" font-size="11.59" font-weight="bold" stroke="#111" stroke-width="0.49">Oscillator Strength/a.u.</text>
<text transform="translate(468.20,206.20) scale(0.8841,1)" font-size="14.06" font-weight="normal">HPor-1</text>
</g>
<g id="chart5">
<clipPath id="cp4"><rect x="182.20000000000002" y="369.9" width="208.6" height="143.70000000000005"/></clipPath>
<line x1="182.80" x2="390.00" y1="482.62" y2="482.62" stroke="#a8a8a8" stroke-width="0.8"/>
<line x1="182.80" x2="390.00" y1="454.64" y2="454.64" stroke="#a8a8a8" stroke-width="0.8"/>
<line x1="182.80" x2="390.00" y1="426.66" y2="426.66" stroke="#a8a8a8" stroke-width="0.8"/>
<line x1="182.80" x2="390.00" y1="398.68" y2="398.68" stroke="#a8a8a8" stroke-width="0.8"/>
<line x1="178.50" x2="180.20" y1="510.60" y2="510.60" stroke="#909090" stroke-width="1"/>
<line x1="182.80" x2="182.80" y1="510.60" y2="514.00" stroke="#a0a0a0" stroke-width="1"/>
<line x1="224.24" x2="224.24" y1="510.60" y2="514.00" stroke="#a0a0a0" stroke-width="1"/>
<line x1="265.68" x2="265.68" y1="510.60" y2="514.00" stroke="#a0a0a0" stroke-width="1"/>
<line x1="307.12" x2="307.12" y1="510.60" y2="514.00" stroke="#a0a0a0" stroke-width="1"/>
<line x1="348.56" x2="348.56" y1="510.60" y2="514.00" stroke="#a0a0a0" stroke-width="1"/>
<line x1="390.00" x2="390.00" y1="510.60" y2="514.00" stroke="#a0a0a0" stroke-width="1"/>
<rect x="191.95" y="503.88" width="1.6" height="6.72" fill="#111"/>
<rect x="199.97" y="509.67" width="1.3" height="0.93" fill="#111"/>
<rect x="210.13" y="495.68" width="1.7" height="14.92" fill="#111"/>
<rect x="216.35" y="499.41" width="1.7" height="11.19" fill="#111"/>
<g clip-path="url(#cp4)"><polyline transform="scale(1.12,1)" points="163.21,506.30 163.58,506.09 163.95,505.94 164.32,505.86 164.69,505.82 165.06,505.82 165.43,505.83 165.80,505.82 166.17,505.73 166.54,505.53 166.91,505.16 167.28,504.54 167.65,503.63 168.02,502.37 168.39,500.73 168.76,498.69 169.13,496.27 169.50,493.52 169.87,490.53 170.24,487.43 170.61,484.37 170.98,481.51 171.35,479.05 171.72,477.12 172.09,475.87 172.46,475.37 172.83,475.67 173.20,476.72 173.57,478.45 173.94,480.73 174.31,483.40 174.68,486.30 175.05,489.26 175.42,492.12 175.79,494.76 176.16,497.11 176.53,499.11 176.90,500.73 177.27,501.98 177.64,502.90 178.01,503.51 178.38,503.85 178.75,503.96 179.12,503.86 179.49,503.57 179.86,503.10 180.23,502.44 180.60,501.57 180.97,500.46 181.34,499.09 181.71,497.41 182.08,495.40 182.45,493.02 182.82,490.25 183.19,487.07 183.56,483.47 183.93,479.46 184.30,475.07 184.67,470.32 185.04,465.29 185.41,460.02 185.78,454.61 186.15,449.15 186.52,443.73 186.89,438.47 187.26,433.46 187.63,428.80 188.00,424.59 188.37,420.89 188.74,417.78 189.11,415.28 189.48,413.43 189.85,412.23 190.22,411.67 190.59,411.72 190.96,412.33 191.33,413.45 191.70,415.03 192.07,417.01 192.44,419.32 192.81,421.90 193.18,424.72 193.55,427.71 193.92,430.85 194.29,434.10 194.66,437.44 195.03,440.85 195.40,444.31 195.77,447.82 196.14,451.37 196.51,454.94 196.88,458.51 197.25,462.08 197.62,465.63 197.99,469.15 198.36,472.60 198.73,475.96 199.10,479.23 199.47,482.37 199.84,485.37 200.21,488.21 200.58,490.87 200.95,493.34 201.32,495.63 201.69,497.71 202.06,499.60 202.43,501.29 202.80,502.80 203.17,504.13 203.54,505.28 203.91,506.29 204.28,507.15 204.65,507.88 205.02,508.49 205.39,509.01 205.76,509.43 206.13,509.78 206.50,510.07 206.87,510.29 207.24,510.48 207.61,510.62 207.98,510.74 208.35,510.83 208.72,510.89 209.09,510.95 209.46,510.99 209.83,511.02 210.20,511.04 210.57,511.06 210.94,511.07 211.31,511.08 211.68,511.08 212.05,511.09 212.42,511.09 212.79,511.09 213.16,511.10 213.53,511.10 213.90,511.10 214.27,511.10 214.64,511.10 215.01,511.10 215.38,511.10 215.75,511.10 216.12,511.10 216.49,511.10 216.86,511.10 217.23,511.10 217.60,511.10 217.97,511.10 218.34,511.10 218.71,511.10 219.08,511.10 219.45,511.10 219.82,511.10 220.19,511.10 220.56,511.10 220.93,511.10 221.30,511.10 221.67,511.10 222.04,511.10 222.41,511.10 222.78,511.10 223.15,511.10 223.52,511.10 223.89,511.10 224.26,511.10 224.63,511.10 225.00,511.10 225.37,511.10 225.74,511.10 226.11,511.10 226.48,511.09 226.85,511.09 227.22,511.09 227.59,511.09 227.96,511.09 228.33,511.09 228.70,511.08 229.07,511.08 229.44,511.08 229.81,511.08 230.18,511.07 230.55,511.07 230.92,511.06 231.29,511.05 231.66,511.05 232.03,511.04 232.40,511.03 232.77,511.01 233.14,511.00 233.51,510.99 233.88,510.97 234.25,510.95 234.62,510.93 234.99,510.91 235.36,510.88 235.73,510.85 236.10,510.82 236.47,510.79 236.84,510.75 237.21,510.71 237.58,510.67 237.95,510.63 238.32,510.58 238.69,510.53 239.06,510.47 239.43,510.42 239.80,510.36 240.17,510.30 240.54,510.23 240.91,510.17 241.28,510.10 241.65,510.04 242.02,509.97 242.39,509.90 242.76,509.84 243.13,509.77 243.50,509.71 243.87,509.65 244.24,509.59 244.61,509.54 244.98,509.49 245.35,509.44 245.72,509.40 246.09,509.36 246.46,509.33 246.83,509.30 247.20,509.28 247.57,509.27 247.94,509.26 248.31,509.26 248.68,509.26 249.05,509.27 249.42,509.28 249.79,509.30 250.16,509.33 250.53,509.36 250.90,509.39 251.27,509.43 251.64,509.47 252.01,509.51 252.38,509.55 252.75,509.60 253.12,509.64 253.49,509.69 253.86,509.74 254.23,509.78 254.60,509.83 254.97,509.88 255.34,509.92 255.71,509.96 256.08,510.00 256.45,510.04 256.82,510.08 257.19,510.11 257.56,510.14 257.93,510.17 258.30,510.20 258.67,510.22 259.04,510.25 259.41,510.27 259.78,510.29 260.15,510.30 260.52,510.32 260.89,510.33 261.26,510.35 261.63,510.36 262.00,510.37 262.37,510.38 262.74,510.39 263.11,510.40 263.48,510.40 263.85,510.41 264.22,510.42 264.59,510.43 264.96,510.43 265.33,510.44 265.70,510.45 266.07,510.46 266.44,510.47 266.81,510.47 267.18,510.48 267.55,510.49 267.92,510.50 268.29,510.51 268.66,510.52 269.03,510.53 269.40,510.54 269.77,510.55 270.14,510.56 270.51,510.58 270.88,510.59 271.25,510.60 271.62,510.61 271.99,510.63 272.36,510.64 272.73,510.65 273.10,510.66 273.47,510.68 273.84,510.69 274.21,510.70 274.58,510.72 274.95,510.73 275.32,510.74 275.69,510.76 276.06,510.77 276.43,510.78 276.80,510.79 277.17,510.81 277.54,510.82 277.91,510.83 278.28,510.84 278.65,510.85 279.02,510.87 279.39,510.88 279.76,510.89 280.13,510.90 280.50,510.91 280.87,510.92 281.24,510.93 281.61,510.94 281.98,510.95 282.35,510.95 282.72,510.96 283.09,510.97 283.46,510.98 283.83,510.99 284.20,510.99 284.57,511.00 284.94,511.01 285.31,511.01 285.68,511.02 286.05,511.02 286.42,511.03 286.79,511.03 287.16,511.04 287.53,511.04 287.90,511.05 288.27,511.05 288.64,511.05 289.01,511.06 289.38,511.06 289.75,511.06 290.12,511.07 290.49,511.07 290.86,511.07 291.23,511.07 291.60,511.08 291.97,511.08 292.34,511.08 292.71,511.08 293.08,511.08 293.45,511.08 293.82,511.09 294.19,511.09 294.56,511.09 294.93,511.09 295.30,511.09 295.67,511.09 296.04,511.09 296.41,511.09 296.78,511.09 297.15,511.09 297.52,511.09 297.89,511.10 298.26,511.10 298.63,511.10 299.00,511.10 299.37,511.10 299.74,511.10 300.11,511.10 300.48,511.10 300.85,511.10 301.22,511.10 301.59,511.10 301.96,511.10 302.33,511.10 302.70,511.10 303.07,511.10 303.44,511.10 303.81,511.10 304.18,511.10 304.55,511.10 304.92,511.10 305.29,511.10 305.66,511.10 306.03,511.10 306.40,511.10 306.77,511.10 307.14,511.10 307.51,511.10 307.88,511.10 308.25,511.10 308.62,511.10 308.99,511.10 309.36,511.10 309.73,511.10 310.10,511.10 310.47,511.10 310.84,511.10 311.21,511.10 311.58,511.10 311.95,511.10 312.32,511.10 312.69,511.10 313.06,511.10 313.43,511.10 313.80,511.10 314.17,511.10 314.54,511.10 314.91,511.10 315.28,511.10 315.65,511.10 316.02,511.10 316.39,511.10 316.76,511.10 317.13,511.10 317.50,511.10 317.87,511.10 318.24,511.10 318.61,511.10 318.98,511.10 319.35,511.10 319.72,511.10 320.09,511.10 320.46,511.10 320.83,511.10 321.20,511.10 321.57,511.10 321.94,511.10 322.31,511.10 322.68,511.10 323.05,511.10 323.42,511.10 323.79,511.10 324.16,511.10 324.53,511.10 324.90,511.10 325.27,511.10 325.64,511.10 326.01,511.10 326.38,511.10 326.75,511.10 327.12,511.10 327.49,511.10 327.86,511.10 328.23,511.10 328.60,511.10 328.97,511.10 329.34,511.10 329.71,511.10 330.08,511.10 330.45,511.10 330.82,511.10 331.19,511.10 331.56,511.10 331.93,511.10 332.30,511.10 332.67,511.10 333.04,511.10 333.41,511.10 333.78,511.10 334.15,511.10 334.52,511.10 334.89,511.10 335.26,511.10 335.63,511.10 336.00,511.10 336.37,511.10 336.74,511.10 337.11,511.10 337.48,511.10 337.85,511.10 338.22,511.10 338.59,511.10 338.96,511.10 339.33,511.10 339.70,511.10 340.07,511.10 340.44,511.10 340.81,511.10 341.18,511.10 341.55,511.10 341.92,511.10 342.29,511.10 342.66,511.10 343.03,511.10 343.40,511.10 343.77,511.10 344.14,511.10 344.51,511.10 344.88,511.10 345.25,511.10 345.62,511.10 345.99,511.10 346.36,511.10 346.73,511.10 347.10,511.10 347.47,511.10 347.84,511.10 348.21,511.10" fill="none" stroke="#0a0a0a" stroke-width="1.75" stroke-linejoin="round" stroke-linecap="butt"/></g>
<rect x="182.80" y="370.70" width="207.20" height="139.90" fill="none" stroke="#1a1a1a" stroke-width="1.25"/>
<text transform="translate(162.10,514.20) scale(0.7973,1)" font-size="9.57" font-weight="bold" stroke="#111" stroke-width="0.40">0.0</text>
<text transform="translate(162.10,486.22) scale(0.7973,1)" font-size="9.57" font-weight="bold" stroke="#111" stroke-width="0.40">3.0</text>
<text transform="translate(162.10,458.24) scale(0.7973,1)" font-size="9.57" font-weight="bold" stroke="#111" stroke-width="0.40">6.0</text>
<text transform="translate(162.10,430.26) scale(0.7973,1)" font-size="9.57" font-weight="bold" stroke="#111" stroke-width="0.40">9.0</text>
<text transform="translate(158.00,402.28) scale(0.7901,1)" font-size="9.57" font-weight="bold" stroke="#111" stroke-width="0.40">12.0</text>
<text transform="translate(158.00,374.30) scale(0.7901,1)" font-size="9.57" font-weight="bold" stroke="#111" stroke-width="0.40">15.0</text>
<text transform="translate(176.45,525.10) scale(0.7950,1)" font-size="9.57" font-weight="bold" stroke="#111" stroke-width="0.40">300</text>
<text transform="translate(217.89,525.10) scale(0.7950,1)" font-size="9.57" font-weight="bold" stroke="#111" stroke-width="0.40">400</text>
<text transform="translate(259.33,525.10) scale(0.7950,1)" font-size="9.57" font-weight="bold" stroke="#111" stroke-width="0.40">500</text>
<text transform="translate(300.77,525.10) scale(0.7950,1)" font-size="9.57" font-weight="bold" stroke="#111" stroke-width="0.40">600</text>
<text transform="translate(342.21,525.10) scale(0.7950,1)" font-size="9.57" font-weight="bold" stroke="#111" stroke-width="0.40">700</text>
<text transform="translate(383.65,525.10) scale(0.7950,1)" font-size="9.57" font-weight="bold" stroke="#111" stroke-width="0.40">800</text>
<text transform="translate(251.80,544.10) scale(0.8683,1)" font-size="13.62" font-weight="bold" stroke="#111" stroke-width="0.57">Wavelength/nm</text>
<text transform="translate(147.00,517.00) rotate(-90) scale(0.9965,1)" font-size="12.75" font-weight="bold" stroke="#111" stroke-width="0.54">Oscillator Strength/a.u.</text>
<text transform="translate(306.60,392.10) scale(0.9722,1)" font-size="14.06" font-weight="normal">HPor-1-Na</text>
</g>
</svg></body></html>
